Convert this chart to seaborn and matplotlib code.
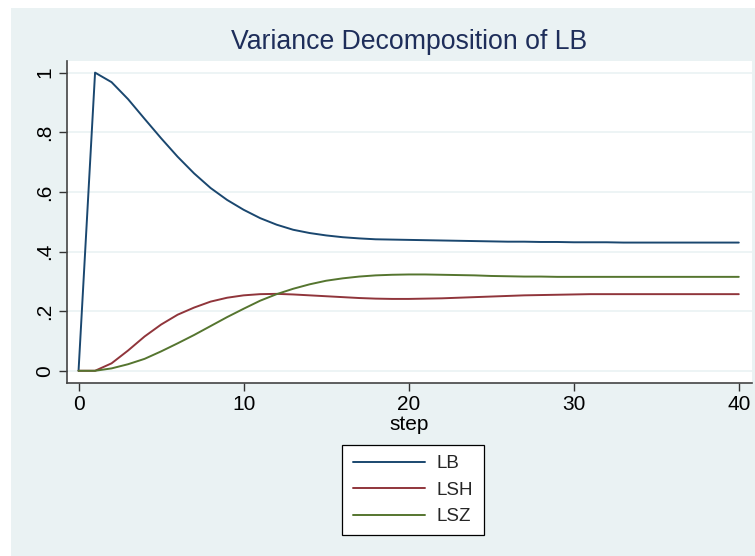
import matplotlib
matplotlib.use("Agg")
import matplotlib.pyplot as plt
import seaborn as sns
import pandas as pd
import numpy as np
from matplotlib.patches import Rectangle

steps = list(range(0, 41))
lb = [0.0, 1.0, 0.968, 0.911, 0.845, 0.780, 0.718, 0.662, 0.613, 0.573, 0.540,
      0.512, 0.490, 0.473, 0.462, 0.454, 0.448, 0.444, 0.441, 0.440, 0.439,
      0.438, 0.437, 0.436, 0.435, 0.434, 0.433, 0.433, 0.432, 0.432, 0.431,
      0.431, 0.431, 0.430, 0.430, 0.430, 0.430, 0.430, 0.430, 0.430, 0.430]
lsh = [0.0, 0.0, 0.025, 0.068, 0.115, 0.155, 0.188, 0.212, 0.232, 0.245, 0.253,
       0.257, 0.258, 0.256, 0.253, 0.250, 0.247, 0.244, 0.242, 0.241, 0.241,
       0.242, 0.243, 0.245, 0.247, 0.249, 0.251, 0.253, 0.254, 0.255, 0.256,
       0.257, 0.257, 0.257, 0.257, 0.257, 0.257, 0.257, 0.257, 0.257, 0.257]
lsz = [0.0, 0.0, 0.008, 0.022, 0.040, 0.065, 0.092, 0.120, 0.150, 0.180, 0.208,
       0.235, 0.257, 0.275, 0.290, 0.302, 0.310, 0.316, 0.320, 0.322, 0.323,
       0.323, 0.322, 0.321, 0.320, 0.318, 0.317, 0.316, 0.316, 0.315, 0.315,
       0.315, 0.315, 0.315, 0.315, 0.315, 0.315, 0.315, 0.315, 0.315, 0.315]
series_names = ["LB", "LSH", "LSZ"]
colors = ["#1a476f", "#90353b", "#55752f"]
yticks = [0, 0.2, 0.4, 0.6, 0.8, 1.0]
ytick_labels = ["0", ".2", ".4", ".6", ".8", "1"]
xticks = [0, 10, 20, 30, 40]
title = "Variance Decomposition of LB"
xlabel = "step"

df = pd.DataFrame({"step": steps * 3,
                   "value": lb + lsh + lsz,
                   "series": [series_names[0]] * 41 + [series_names[1]] * 41 + [series_names[2]] * 41})

sns.set_theme(style="white")
plt.rcParams["font.family"] = ["Liberation Sans", "DejaVu Sans"]

W, H = 755, 556
bg = "#eaf2f3"
fig = plt.figure(figsize=(W / 100, H / 100), dpi=100, facecolor=bg)
fig.patches.append(Rectangle((0, (H - 8) / H), 1, 8 / H, transform=fig.transFigure,
                             facecolor="white", edgecolor="none", zorder=0))
fig.patches.append(Rectangle((0, 0), 11 / W, 1, transform=fig.transFigure,
                             facecolor="white", edgecolor="none", zorder=0))

left, right, top, bottom = 67, 752, 61, 383
ax = fig.add_axes([left / W, (H - bottom) / H, (right - left) / W, (bottom - top) / H])
ax.set_facecolor("white")
ax.set_zorder(2)

sns.lineplot(data=df, x="step", y="value", hue="series", palette=colors, ax=ax,
             linewidth=1.4, legend=False)

ax.set_xlim(-0.7, 40.8)
ax.set_ylim(-0.041, 1.039)
ax.set_yticks(yticks)
ax.set_yticklabels(ytick_labels, rotation=90, va="center")
ax.set_xticks(xticks)
ax.set_xticklabels([str(t) for t in xticks])
ax.tick_params(axis="both", direction="out", length=6, width=1.0, color="#333333",
               labelsize=15, labelcolor="black", pad=3, left=True, bottom=True)
for s in ["top", "right"]:
    ax.spines[s].set_visible(False)
for s in ["left", "bottom"]:
    ax.spines[s].set_color("#444444")
    ax.spines[s].set_linewidth(1.2)
ax.grid(axis="y", color=bg, linewidth=1.2)
ax.grid(axis="x", visible=False)
ax.set_axisbelow(True)
ax.set_xlabel(xlabel, fontsize=15, labelpad=0, color="black")
ax.set_ylabel("")

fig.text(409 / W, 1 - 42 / H, title, ha="center", va="center", fontsize=19.2, color="#1e2e5a")

handles = [plt.Line2D([], [], color=c, linewidth=1.4) for c in colors]
leg = fig.legend(handles, series_names, loc="center", bbox_to_anchor=(413 / W, 1 - 490 / H),
                 frameon=True, fancybox=False, edgecolor="black", facecolor="white",
                 framealpha=1, fontsize=13.5, handlelength=3.85, handletextpad=0.65,
                 labelspacing=0.5, borderpad=0.55, borderaxespad=0)
leg.get_frame().set_linewidth(0.9)

fig.savefig("out.png", dpi=100, facecolor=bg)
